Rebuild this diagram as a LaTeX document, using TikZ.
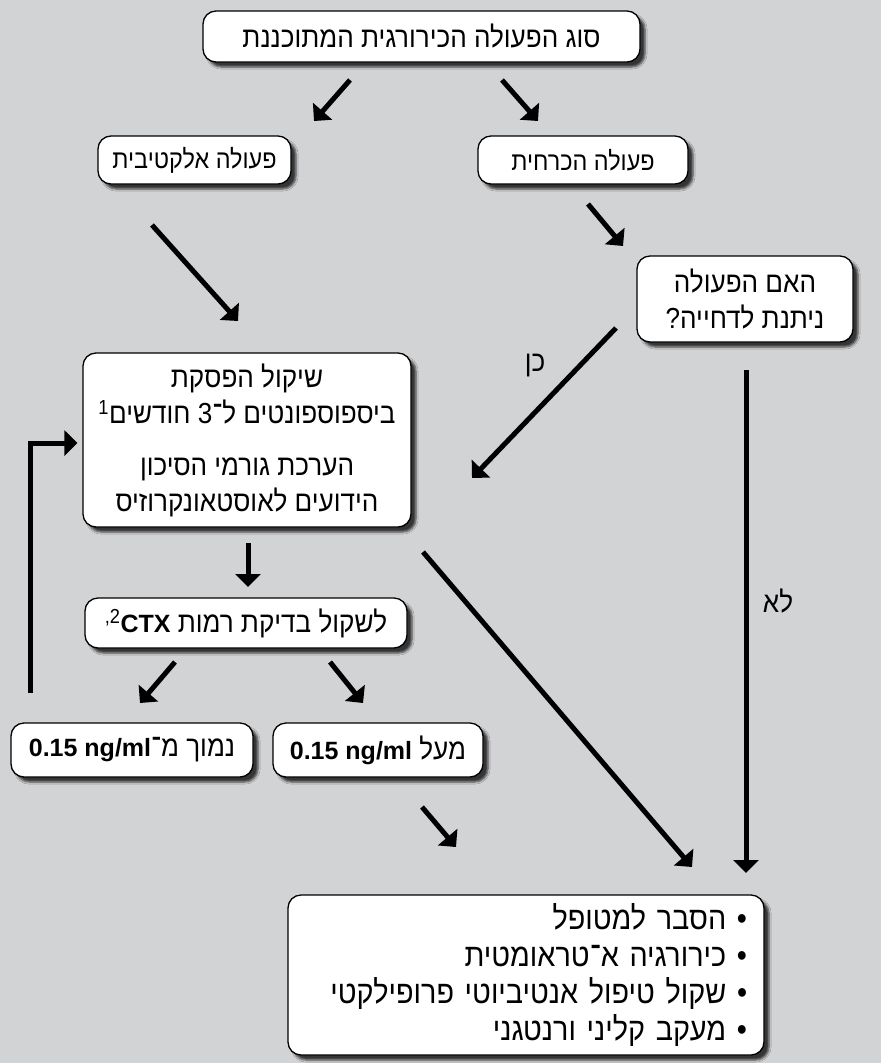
\documentclass[tikz,border=0pt]{standalone}
\usepackage{fontspec}
\setmainfont{Liberation Sans}
\newfontfamily\heb[Script=Hebrew, FakeStretch=0.9]{Liberation Sans}
\newcommand\val[1]{{\normalfont\fontsize{25}{30}\selectfont\bfseries #1}}
\TeXXeTstate=1
\usetikzlibrary{arrows.meta,shadows.blur}
\definecolor{bggray}{RGB}{210,211,213}

\begin{document}
\begin{tikzpicture}[x=1pt,y=-1pt,
    box/.style={draw=black, line width=1.3pt, rounded corners=13pt, fill=white, inner sep=0pt,
        font=\heb\fontsize{29}{36}\selectfont,
        blur shadow={shadow xshift=5pt, shadow yshift=-5pt, shadow opacity=75, shadow blur steps=4}},
    small/.style={font=\heb\fontsize{26}{30}\selectfont},
    arr/.style={line width=5pt, -{Triangle[width=25pt,length=13pt]}},
    lbl/.style={font=\heb\fontsize{29}{30}\selectfont}]
    \fill[bggray] (0,0) rectangle (881,1063);

    % boxes
    \node[box, minimum width=437pt, minimum height=51pt] (type) at (421.5,36.5) {\beginR סוג הפעולה הכירורגית המתוכננת\endR};
    \node[box, small, minimum width=193pt, minimum height=48pt] (elective) at (194.5,160) {\beginR פעולה אלקטיבית\endR};
    \node[box, small, minimum width=210pt, minimum height=48pt] (urgent) at (583,160) {\beginR פעולה הכרחית\endR};
    \node[box, minimum width=216pt, minimum height=86pt, align=center] (delay) at (745,299)
        {\beginR האם הפעולה\endR\\\beginR ניתנת לדחייה?\endR};
    \node[box, minimum width=328pt, minimum height=174pt, align=center] (stop) at (247,440)
        {\beginR שיקול הפסקת\endR\\
         \beginR ביספוספונטים ל־3 חודשים\textsuperscript{1}\endR\\[16pt]
         \beginR הערכת גורמי הסיכון\endR\\
         \beginR הידועים לאוסטאונקרוזיס\endR};
    \node[box, minimum width=322pt, minimum height=50pt] (ctx) at (246,623)
        {\beginR לשקול בדיקת רמות \beginL\textsuperscript{2,}\val{CTX}\endL\endR};
    \node[box, minimum width=242pt, minimum height=54pt] (low) at (132,750)
        {\beginR נמוך מ־\beginL\val{0.15 ng/ml}\endL\endR};
    \node[box, minimum width=210pt, minimum height=54pt] (high) at (378,750)
        {\beginR מעל \beginL\val{0.15 ng/ml}\endL\endR};
    \node[box, minimum height=160pt, text width=442pt, inner xsep=17pt, align=right,
        font=\heb\fontsize{32}{37}\selectfont] (care) at (526,975)
        {\beginR • הסבר למטופל\endR\\
         \beginR • כירורגיה א־טראומטית\endR\\
         \beginR • שקול טיפול אנטיביוטי פרופילקטי\endR\\
         \beginR • מעקב קליני ורנטגני\endR};

    % arrow ends
    \coordinate (t1) at (350,80);  \coordinate (t1e) at (314,121);
    \coordinate (t2) at (502,80);  \coordinate (t2e) at (538,121);
    \coordinate (e1) at (152,225); \coordinate (e1e) at (238,321);
    \coordinate (u1) at (588,204); \coordinate (u1e) at (623,246);
    \coordinate (d1) at (616,328); \coordinate (d1e) at (472,478);
    \coordinate (d2) at (746,370); \coordinate (d2e) at (746,873);
    \coordinate (s1) at (248,543); \coordinate (s1e) at (248,587);
    \coordinate (s2) at (423,552); \coordinate (s2e) at (692,867);
    \coordinate (c1) at (175,662); \coordinate (c1e) at (140,703);
    \coordinate (c2) at (330,662); \coordinate (c2e) at (363,703);
    \coordinate (h1) at (422,807); \coordinate (h1e) at (456,847);
    \coordinate (fb) at (30,693);

    \draw[arr] (t1) -- (t1e);
    \draw[arr] (t2) -- (t2e);
    \draw[arr] (e1) -- (e1e);
    \draw[arr] (u1) -- (u1e);
    \draw[arr] (d1) -- node[lbl, pos=0.25, xshift=-45pt] {\beginR כן\endR} (d1e);
    \draw[arr] (d2) -- node[lbl, pos=0.46, xshift=32pt] {\beginR לא\endR} (d2e);
    \draw[arr] (s1) -- (s1e);
    \draw[arr] (s2) -- (s2e);
    \draw[arr] (c1) -- (c1e);
    \draw[arr] (c2) -- (c2e);
    \draw[arr] (h1) -- (h1e);
    \draw[arr, shorten >=5pt] (fb) |- ([yshift=-3pt]stop.west);
\end{tikzpicture}
\end{document}
